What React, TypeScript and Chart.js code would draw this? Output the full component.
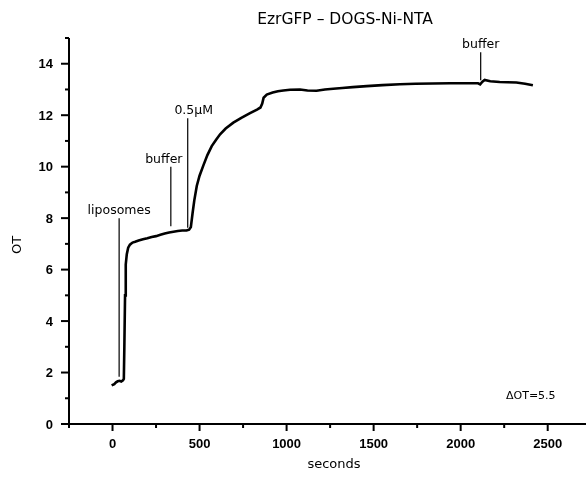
import React, { useEffect, useRef } from "react";
import { Chart, registerables } from "chart.js";

Chart.register(...registerables);

// ---- data ----
const timeSec = [
  -5, 10, 20, 30, 40, 50, 60, 65, 68, 72, 76, 82, 90, 100, 115, 130, 150, 175, 200, 225,
  250, 275, 300, 325, 350, 375, 400, 425, 440, 450, 460, 470, 484, 500, 522, 545, 570, 595,
  618, 650, 694, 740, 790, 830, 850, 860, 868, 886, 920, 950, 981, 1020, 1077, 1120, 1172,
  1220, 1268, 1320, 1380, 1460, 1550, 1651, 1740, 1840, 1940, 2033, 2100, 2112, 2125, 2138,
  2170, 2224, 2270, 2320, 2370, 2415,
];
const otValues = [
  1.5, 1.55, 1.62, 1.66, 1.68, 1.65, 1.7, 1.75, 3.0, 5.0, 6.2, 6.6, 6.85, 6.97, 7.05, 7.08,
  7.13, 7.18, 7.22, 7.27, 7.3, 7.35, 7.4, 7.44, 7.47, 7.5, 7.52, 7.52, 7.55, 7.65, 8.2, 8.7,
  9.25, 9.65, 10.05, 10.45, 10.8, 11.05, 11.26, 11.48, 11.71, 11.9, 12.08, 12.22, 12.3,
  12.45, 12.68, 12.8, 12.88, 12.93, 12.96, 12.99, 13.0, 12.96, 12.95, 13.0, 13.03, 13.06,
  13.09, 13.13, 13.17, 13.2, 13.22, 13.23, 13.24, 13.24, 13.24, 13.2, 13.3, 13.37, 13.32,
  13.29, 13.28, 13.27, 13.22, 13.16,
];
const markerTimes = [38, 335, 432, 2115];
const markerTop = [8.0, 10.0, 11.88, 14.45];
const markerBottom = [1.84, 7.68, 7.63, 13.36];
const markerLabels = ["liposomes", "buffer", "0.5μM", "buffer"];
const chartTitle = "EzrGFP – DOGS-Ni-NTA";
const xAxisTitle = "seconds";
const yAxisTitle = "OT";
const deltaNote = "ΔOT=5.5";
const xMin = -250;
const xMax = 2720;
const xTicks = [-250, 0, 250, 500, 750, 1000, 1250, 1500, 1750, 2000, 2250, 2500];
const xTickLabels = ["", "0", "", "500", "", "1000", "", "1500", "", "2000", "", "2500"];
const yMin = 0;
const yMax = 15;
const yTicks = [0, 1, 2, 3, 4, 5, 6, 7, 8, 9, 10, 11, 12, 13, 14, 15];
const yTickLabels = ["0", "", "2", "", "4", "", "6", "", "8", "", "10", "", "12", "", "14", ""];

const labelOffsets = [0, -7, 6, 0];
const TEXT_FONT = '"DejaVu Sans", sans-serif';
const TICK_FONT = 'bold 13px "Liberation Sans", Arial, sans-serif';

const overlayPlugin = {
  id: "overlay",
  afterDraw(chart: any) {
    const { ctx, chartArea, scales } = chart;
    const xs = scales.x;
    const ys = scales.y;
    ctx.save();
    ctx.strokeStyle = "#000";
    ctx.fillStyle = "#000";
    // axes
    ctx.lineWidth = 2;
    ctx.beginPath();
    ctx.moveTo(chartArea.left, chartArea.top);
    ctx.lineTo(chartArea.left, chartArea.bottom);
    ctx.lineTo(chartArea.right, chartArea.bottom);
    ctx.stroke();
    // x ticks + labels
    ctx.font = TICK_FONT;
    ctx.textAlign = "center";
    ctx.textBaseline = "top";
    xs.ticks.forEach((t: any, i: number) => {
      const px = xs.getPixelForValue(t.value);
      const label = xTickLabels[i] || "";
      const len = label ? 7 : 4;
      ctx.beginPath();
      ctx.moveTo(px, chartArea.bottom);
      ctx.lineTo(px, chartArea.bottom + len);
      ctx.stroke();
      if (label) ctx.fillText(label, px, chartArea.bottom + 14);
    });
    ctx.textAlign = "right";
    ctx.textBaseline = "middle";
    ys.ticks.forEach((t: any, i: number) => {
      const py = ys.getPixelForValue(t.value);
      const label = yTickLabels[i] || "";
      const len = label ? 8 : 4;
      ctx.beginPath();
      ctx.moveTo(chartArea.left, py);
      ctx.lineTo(chartArea.left - len, py);
      ctx.stroke();
      if (label) ctx.fillText(label, chartArea.left - 16, py + 1);
    });
    // markers
    ctx.lineWidth = 1.2;
    ctx.font = `12.5px ${TEXT_FONT}`;
    ctx.textAlign = "center";
    ctx.textBaseline = "bottom";
    markerTimes.forEach((t, i) => {
      const px = xs.getPixelForValue(t);
      const top = ys.getPixelForValue(markerTop[i]);
      const bot = ys.getPixelForValue(markerBottom[i]);
      ctx.beginPath();
      ctx.moveTo(px, top);
      ctx.lineTo(px, bot);
      ctx.stroke();
      ctx.fillText(markerLabels[i], px + labelOffsets[i], top - 1);
    });
    // title
    ctx.font = `15.5px ${TEXT_FONT}`;
    ctx.textBaseline = "middle";
    ctx.fillText(chartTitle, 345, 20);
    // x title
    ctx.font = `13px ${TEXT_FONT}`;
    ctx.fillText(xAxisTitle, 334, 465);
    // y title
    ctx.save();
    ctx.translate(18, 245);
    ctx.rotate(-Math.PI / 2);
    ctx.fillText(yAxisTitle, 0, 0);
    ctx.restore();
    // delta note
    ctx.font = `11px ${TEXT_FONT}`;
    ctx.textAlign = "left";
    ctx.fillText(deltaNote, 506, 396);
    ctx.restore();
  },
};

export default function App() {
  const ref = useRef<HTMLCanvasElement | null>(null);
  useEffect(() => {
    if (!ref.current) return;
    const chart = new Chart(ref.current, {
      type: "line",
      data: {
        datasets: [
          {
            data: timeSec.map((t, i) => ({ x: t, y: otValues[i] })),
            borderColor: "#000",
            borderWidth: 2.6,
            pointRadius: 0,
            tension: 0,
            fill: false,
          },
        ],
      },
      options: {
        animation: false,
        responsive: false,
        devicePixelRatio: 1,
        layout: { padding: { top: 38, right: 0, left: 0, bottom: 0 } },
        plugins: { legend: { display: false }, tooltip: { enabled: false }, title: { display: false } },
        scales: {
          x: {
            type: "linear",
            min: xMin,
            max: xMax,
            afterBuildTicks: (s: any) => {
              s.ticks = xTicks.map((v) => ({ value: v }));
            },
            afterFit: (s: any) => {
              s.height = 53;
              s.paddingLeft = 0;
              s.paddingRight = 0;
            },
            grid: { display: false },
            border: { display: false },
            ticks: { display: false, autoSkip: false },
          },
          y: {
            type: "linear",
            min: yMin,
            max: yMax,
            afterBuildTicks: (s: any) => {
              s.ticks = yTicks.map((v) => ({ value: v }));
            },
            afterFit: (s: any) => {
              s.width = 69;
              s.paddingTop = 0;
              s.paddingBottom = 0;
            },
            grid: { display: false },
            border: { display: false },
            ticks: { display: false, autoSkip: false },
          },
        },
      },
      plugins: [overlayPlugin],
    } as any);
    return () => chart.destroy();
  }, []);
  return (
    <div style={{ position: "absolute", left: 0, top: 0, width: 586, height: 477, background: "#fff" }}>
      <canvas ref={ref} width={586} height={477} style={{ display: "block" }} />
    </div>
  );
}
